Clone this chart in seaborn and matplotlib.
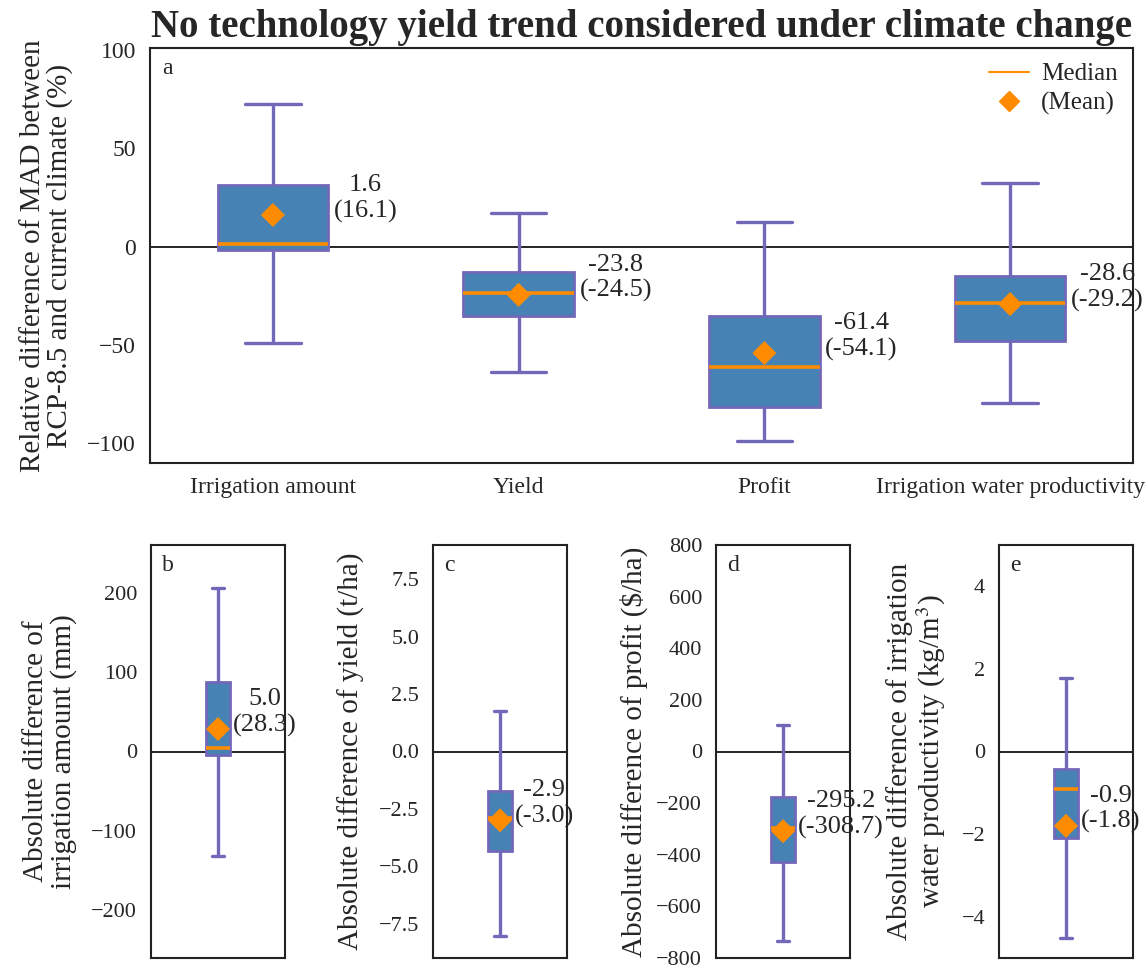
import numpy as np
import pandas as pd
import matplotlib
matplotlib.use("Agg")
import matplotlib.pyplot as plt
from matplotlib.lines import Line2D
import seaborn as sns

# ---------------- data ----------------
categories = ["Irrigation amount", "Yield", "Profit", "Irrigation water productivity"]
# relative differences (%) : lower whisker, Q1, median, Q3, upper whisker
rel_whislo = [-49.0, -63.5, -99.0, -79.7]
rel_q1     = [-1.5, -35.5, -81.7, -48.2]
rel_median = [1.6, -23.8, -61.4, -28.6]
rel_q3     = [31.5, -12.7, -35.5, -14.7]
rel_whishi = [72.5, 17.0, 12.5, 32.5]
rel_mean   = [16.1, -24.5, -54.1, -29.2]

# absolute differences for panels b-e
abs_panels = ["b", "c", "d", "e"]
abs_ylabels = ["Absolute difference of\nirrigation amount (mm)",
               "Absolute difference of yield (t/ha)",
               "Absolute difference of profit (\\$/ha)",
               "Absolute difference of irrigation\nwater productivity (kg/m$^3$)"]
abs_whislo = [-131.0, -8.05, -736.0, -4.52]
abs_q1     = [-5.0, -4.34, -430.0, -2.10]
abs_median = [5.0, -2.9, -295.2, -0.9]
abs_q3     = [87.0, -1.70, -178.0, -0.42]
abs_whishi = [206.0, 1.75, 103.0, 1.77]
abs_mean   = [28.3, -3.0, -308.7, -1.8]
abs_ylims  = [(-260, 260), (-9, 9), (-800, 800), (-5, 5)]
abs_yticks = [[-200, -100, 0, 100, 200],
              [-7.5, -5.0, -2.5, 0.0, 2.5, 5.0, 7.5],
              [-800, -600, -400, -200, 0, 200, 400, 600, 800],
              [-4, -2, 0, 2, 4]]

# ---------------- style ----------------
sns.set_style("white")
plt.rcParams["font.family"] = ["Liberation Serif", "DejaVu Serif"]
plt.rcParams["mathtext.fontset"] = "stix"

BOX_FILL = "#4682B4"
EDGE = "#7268BA"
ORANGE = "#FF8C00"

fig = plt.figure(figsize=(11.48, 9.68), dpi=100)

box_kw = dict(whis=(0, 100), showfliers=False, color=BOX_FILL, saturation=1,
              linecolor=EDGE, linewidth=2.2,
              medianprops=dict(color=ORANGE, linewidth=2.6),
              whiskerprops=dict(color=EDGE, linewidth=2.4),
              capprops=dict(color=EDGE, linewidth=2.4),
              boxprops=dict(edgecolor=EDGE, linewidth=2.0))


def five(lo, q1, med, q3, hi):
    return [lo, q1, med, q3, hi]


def style_frame(ax, lsize=17):
    for s in ax.spines.values():
        s.set_visible(True)
        s.set_color("#222222")
        s.set_linewidth(1.5)
    ax.tick_params(length=0, labelsize=lsize)


# ---------------- panel a ----------------
rows = []
for i, c in enumerate(categories):
    for v in five(rel_whislo[i], rel_q1[i], rel_median[i], rel_q3[i], rel_whishi[i]):
        rows.append({"cat": c, "val": v})
df_rel = pd.DataFrame(rows)

ax = fig.add_axes([150 / 1148, 1 - 463 / 968, 983 / 1148, 415 / 968])
ax.axhline(0, color="black", lw=1.2, zorder=0.5)
BW_TOP = 0.45
sns.boxplot(data=df_rel, x="cat", y="val", order=categories, width=BW_TOP, ax=ax, **box_kw)
pos = np.arange(len(categories))
sns.scatterplot(x=pos, y=rel_mean, marker="D", color=ORANGE, s=150, edgecolor="none",
                zorder=6, ax=ax, legend=False)
for i in range(len(categories)):
    ax.annotate(f"{rel_median[i]:.1f}\n({rel_mean[i]:.1f})",
                xy=(pos[i] + BW_TOP / 2, rel_mean[i]), xytext=(4, 12),
                textcoords="offset points", ha="left", va="center",
                multialignment="center", fontsize=19, linespacing=1.2, zorder=7)
ax.set_xlim(-0.5, 3.5)
ax.set_ylim(-110, 101)
ax.set_yticks([-100, -50, 0, 50, 100])
ax.set_xlabel("")
ax.set_ylabel("Relative difference of MAD between\nRCP-8.5 and current climate (%)",
              fontsize=21, linespacing=1.05, labelpad=10)
ax.set_title("No technology yield trend considered under climate change",
             fontsize=28, fontweight="bold", pad=8)
ax.text(0.012, 0.975, "a", transform=ax.transAxes, ha="left", va="top", fontsize=17)
style_frame(ax)
ax.tick_params(axis="x", pad=10)
ax.tick_params(axis="y", pad=10)
handles = [Line2D([], [], color=ORANGE, lw=1.5),
           Line2D([], [], color=ORANGE, marker="D", ls="none", markersize=10)]
ax.legend(handles, ["Median", "(Mean)"], loc="upper right", frameon=False,
          fontsize=18, handlelength=1.6, borderaxespad=0.2, labelspacing=0.25,
          handletextpad=0.5)

# ---------------- panels b-e ----------------
lefts = [151, 433, 716, 999]
BW_BOT = 0.18
for k in range(4):
    axb = fig.add_axes([lefts[k] / 1148, 1 - 958 / 968, 134 / 1148, 413 / 968])
    axb.axhline(0, color="black", lw=1.2, zorder=0.5)
    vals = five(abs_whislo[k], abs_q1[k], abs_median[k], abs_q3[k], abs_whishi[k])
    sns.boxplot(y=vals, width=BW_BOT, ax=axb, **box_kw)
    sns.scatterplot(x=[0], y=[abs_mean[k]], marker="D", color=ORANGE, s=150,
                    edgecolor="none", zorder=6, ax=axb, legend=False)
    axb.annotate(f"{abs_median[k]:.1f}\n({abs_mean[k]:.1f})",
                 xy=(BW_BOT / 2, abs_mean[k]), xytext=(2, 12),
                 textcoords="offset points", ha="left", va="center",
                 multialignment="center", fontsize=19, linespacing=1.2, zorder=7)
    axb.set_xlim(-0.5, 0.5)
    axb.set_ylim(*abs_ylims[k])
    axb.set_yticks(abs_yticks[k])
    if k == 1:
        axb.set_yticklabels([f"{t:.1f}".replace("-", "\u2212") for t in abs_yticks[k]])
    axb.set_xticks([])
    axb.set_xlabel("")
    axb.set_ylabel(abs_ylabels[k], fontsize=21, linespacing=1.05,
                   labelpad=6 if k == 2 else 10)
    axb.text(0.08, 0.975, abs_panels[k], transform=axb.transAxes, ha="left", va="top",
             fontsize=17)
    style_frame(axb, 16)
    axb.tick_params(axis="y", pad=10)

fig.savefig("out.png", dpi=100)
